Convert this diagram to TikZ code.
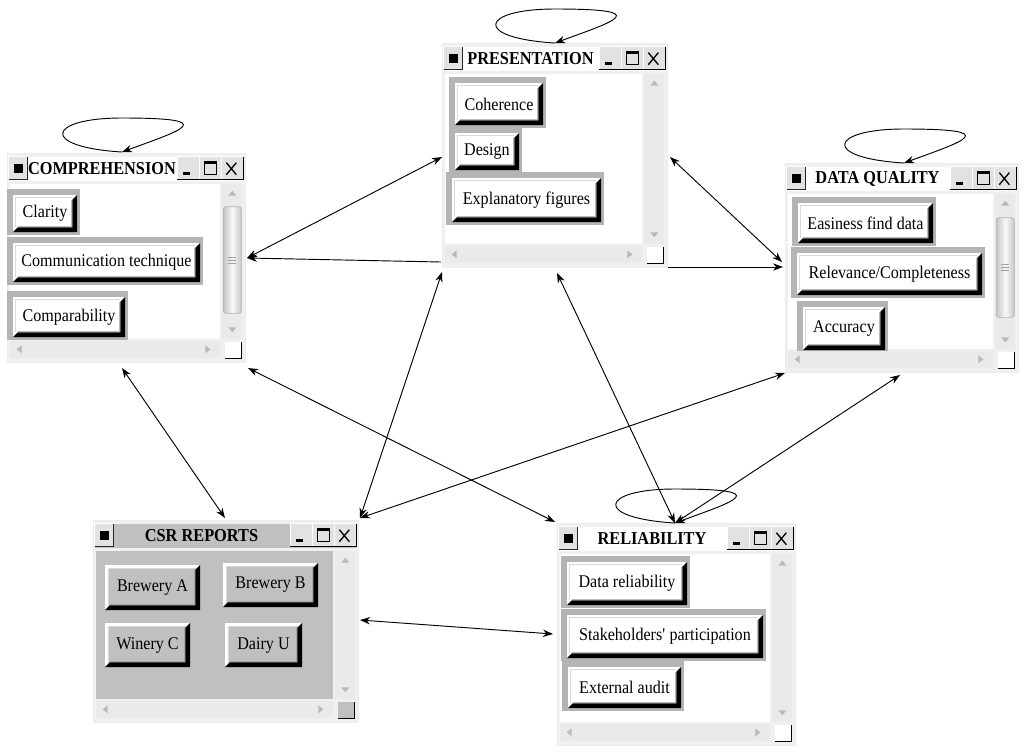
\documentclass[tikz,border=0pt]{standalone}
\usepackage{fontspec}
\newfontfamily\uifont[FakeStretch=0.9]{Liberation Serif}
\usetikzlibrary{arrows.meta,fit,calc}
\definecolor{framebg}{HTML}{F0F0F0}
\definecolor{trackbg}{HTML}{EAEAEA}
\definecolor{btnframe}{HTML}{B4B4B4}
\definecolor{csrgray}{HTML}{C0C0C0}
\definecolor{tbtn}{HTML}{E2E2E2}
\tikzset{
 winframe/.style={rectangle, fill=framebg, draw=gray!15, line width=0.5pt, inner sep=0pt},
 ttl/.style={font=\uifont\bfseries\fontsize{13.6}{15}\selectfont, inner sep=0pt, text=black},
 wbtn/.style={rectangle, inner sep=0pt, fill=white, font=\uifont\fontsize{13.4}{15}\selectfont,
   path picture={
     \fill[black] (path picture bounding box.south west) -- (path picture bounding box.south east)
       -- (path picture bounding box.north east) -- ([shift={(-3.5pt,-3.5pt)}]path picture bounding box.north east)
       -- ([shift={(-3.5pt,3.5pt)}]path picture bounding box.south east) -- ([shift={(3.5pt,3.5pt)}]path picture bounding box.south west) -- cycle;
     \draw[gray!55, line width=0.6pt] ([shift={(3.5pt,4pt)}]path picture bounding box.south west) -- ([shift={(-4pt,4pt)}]path picture bounding box.south east) -- ([shift={(-4pt,-3.5pt)}]path picture bounding box.north east);
     \draw[gray!30, line width=0.5pt] ([shift={(2pt,4pt)}]path picture bounding box.south west) |- ([shift={(-4pt,-2pt)}]path picture bounding box.north east);
   }},
 cbtn/.style={rectangle, inner sep=0pt, fill=csrgray, font=\uifont\fontsize{13.4}{15}\selectfont,
   path picture={
     \fill[white] (path picture bounding box.south west) -- (path picture bounding box.north west)
       -- (path picture bounding box.north east) -- ([shift={(-2.5pt,-2.5pt)}]path picture bounding box.north east)
       -- ([shift={(2.5pt,-2.5pt)}]path picture bounding box.north west) -- ([shift={(2.5pt,2.5pt)}]path picture bounding box.south west) -- cycle;
     \fill[black] (path picture bounding box.south west) -- (path picture bounding box.south east)
       -- (path picture bounding box.north east) -- ([shift={(-3.5pt,-3.5pt)}]path picture bounding box.north east)
       -- ([shift={(-3.5pt,3.5pt)}]path picture bounding box.south east) -- ([shift={(3.5pt,3.5pt)}]path picture bounding box.south west) -- cycle;
     \draw[gray!70, line width=0.6pt] ([shift={(3.5pt,4pt)}]path picture bounding box.south west) -- ([shift={(-4pt,4pt)}]path picture bounding box.south east) -- ([shift={(-4pt,-3pt)}]path picture bounding box.north east);
   }},
 arr/.style={-{Stealth[length=7.5pt,width=5.5pt]}, line width=0.7pt},
 biarr/.style={{Stealth[length=7.5pt,width=5.5pt]}-{Stealth[length=7.5pt,width=5.5pt]}, line width=0.7pt},
}
% window base: name, title, content colour, title-bar colour
\newcommand\winbase[4]{%
 \fill[#4] ([shift={(2,4)}]#1.north west) rectangle ([shift={(-2,28)}]#1.north east);
 \fill[tbtn] ([shift={(2,4)}]#1.north west) rectangle ([shift={(21,27)}]#1.north west);
 \draw[white, line width=0.8pt] ([shift={(2,27)}]#1.north west) |- ([shift={(21,4)}]#1.north west);
 \draw[black!85, line width=0.8pt] ([shift={(2,27)}]#1.north west) -| ([shift={(21,4)}]#1.north west);
 \fill[black] ([shift={(7,11)}]#1.north west) rectangle ([shift={(16,20)}]#1.north west);
 \node[ttl] (#1-title) at ([shift={(-24,16)}]#1.north) {#2};
 \foreach \k in {0,1,2} {
  \fill[tbtn] ([shift={(-68+22*\k,4)}]#1.north east) rectangle ([shift={(-46+22*\k,27)}]#1.north east);
  \draw[white, line width=0.8pt] ([shift={(-68+22*\k,27)}]#1.north east) |- ([shift={(-46+22*\k,4)}]#1.north east);
  \draw[black, line width=0.8pt] ([shift={(-68+22*\k,27)}]#1.north east) -| ([shift={(-46+22*\k,4)}]#1.north east);
 }
 \draw[line width=1.8pt] ([shift={(-62,21)}]#1.north east) -- ([shift={(-55,21)}]#1.north east);
 \draw[line width=0.9pt] ([shift={(-41,9)}]#1.north east) rectangle ([shift={(-29,22)}]#1.north east);
 \draw[line width=1.8pt] ([shift={(-41,10)}]#1.north east) -- ([shift={(-29,10)}]#1.north east);
 \draw[line width=1pt] ([shift={(-19,10)}]#1.north east) -- ([shift={(-9,22)}]#1.north east)
   ([shift={(-9,10)}]#1.north east) -- ([shift={(-19,22)}]#1.north east);
 \filldraw[fill=#3, draw=gray!12, line width=1pt] ([shift={(3,31)}]#1.north west) rectangle ([shift={(-25,-23)}]#1.south east);
}
% scrollbars: name, corner colour
\newcommand\winbars[2]{%
 \fill[trackbg] ([shift={(-23,31)}]#1.north east) rectangle ([shift={(-3,-23)}]#1.south east);
 \fill[gray!55] ([shift={(-13,38)}]#1.north east) -- ++(4,5) -- ++(-8,0) -- cycle;
 \fill[gray!55] ([shift={(-13,-30)}]#1.south east) -- ++(4,-5) -- ++(-8,0) -- cycle;
 \fill[trackbg] ([shift={(3,-21)}]#1.south west) rectangle ([shift={(-25,-4)}]#1.south east);
 \fill[gray!55] ([shift={(10,-13)}]#1.south west) -- ++(5,-4) -- ++(0,8) -- cycle;
 \fill[gray!55] ([shift={(-35,-13)}]#1.south east) -- ++(-5,-4) -- ++(0,8) -- cycle;
 \fill[#2] ([shift={(-20,-20)}]#1.south east) rectangle ([shift={(-4,-4)}]#1.south east);
 \draw[black, line width=1pt] ([shift={(-20,-4)}]#1.south east) -| ([shift={(-4,-20)}]#1.south east);
}
% scrollbar thumb: name, top offset, bottom offset
\newcommand\thumb[3]{%
 \shadedraw[left color=gray!45, right color=gray!45, middle color=gray!5, draw=gray!60, rounded corners=2pt, line width=0.5pt]
   ([shift={(-22,#2)}]#1.north east) rectangle ([shift={(-4,-#3)}]#1.south east);
 \foreach \d in {-3,0,3}
   \draw[gray!75, line width=0.6pt] ($([shift={(-22,#2)}]#1.north east)!0.5!([shift={(-4,-#3)}]#1.south east)+(-4,\d)$) -- ++(8,0);
}
\newcommand\wbutton[6]{%
 \fill[btnframe] (#2-6,#3-6) rectangle (#4+3,#5+3);
 \node[wbtn, minimum width={(#4-#2)*0.75pt}, minimum height={(#5-#3)*0.75pt}] (#1) at ({(#2+#4)/2},{(#3+#5)/2}) {#6};
}
\newcommand\cbutton[6]{%
 \node[cbtn, minimum width={(#4-#2)*0.75pt}, minimum height={(#5-#3)*0.75pt}] (#1) at ({(#2+#4)/2},{(#3+#5)/2}) {#6};
}
\newcommand\selfloop[1]{%
 \draw[arr] (#1) .. controls +(-83,-5) and +(-75,0) .. ([shift={(0,-34)}]#1) .. controls +(100,0) and +(60,-22) .. (#1);
}
\begin{document}
\begin{tikzpicture}[x=0.75pt,y=-0.75pt]
\useasboundingbox[fill=white] (0,0) rectangle (1024,751);

% COMPREHENSION
\node[winframe, fit={(7,153)(245,362)}] (comp) {};
\winbase{comp}{COMPREHENSION}{white}{white}
\wbutton{clarity}{13}{195}{77}{232}{Clarity}
\wbutton{commtech}{13}{243}{200}{282}{Communication technique}
\wbutton{compar}{13}{297}{125}{337}{Comparability}
\winbars{comp}{white}
\thumb{comp}{54}{49}

% PRESENTATION
\node[winframe, fit={(442,43)(667,267)}] (pres) {};
\winbase{pres}{PRESENTATION}{white}{white}
\wbutton{coher}{455}{83}{543}{125}{Coherence}
\wbutton{design}{455}{133}{519}{170}{Design}
\wbutton{explfig}{452}{178}{601}{222}{Explanatory figures}
\winbars{pres}{white}

% DATA QUALITY
\node[winframe, fit={(785,163)(1018,372)}] (dq) {};
\winbase{dq}{DATA QUALITY}{white}{white}
\wbutton{easy}{798}{203}{933}{243}{Easiness find data}
\wbutton{relev}{797}{253}{982}{295}{Relevance/Completeness}
\wbutton{accur}{803}{307}{885}{350}{Accuracy}
\winbars{dq}{white}
\thumb{dq}{55}{55}

% CSR REPORTS
\node[winframe, fit={(93,520)(358,722)}] (csr) {};
\winbase{csr}{CSR REPORTS}{csrgray}{csrgray}
\cbutton{brewa}{105}{565}{200}{610}{Brewery A}
\cbutton{brewb}{223}{563}{318}{607}{Brewery B}
\cbutton{winec}{105}{623}{190}{667}{Winery C}
\cbutton{dairyu}{225}{623}{302}{667}{Dairy U}
\winbars{csr}{csrgray}

% RELIABILITY
\node[winframe, fit={(557,523)(795,745)}] (rel) {};
\winbase{rel}{RELIABILITY}{white}{white}
\wbutton{datarel}{567}{562}{687}{605}{Data reliability}
\wbutton{stake}{567}{615}{763}{658}{Stakeholders\textquotesingle{} participation}
\wbutton{extaud}{568}{667}{681}{708}{External audit}
\winbars{rel}{white}

% connection points
\coordinate (comp-loop) at (122,152);
\coordinate (pres-loop) at (555,43);
\coordinate (dq-loop) at (904,163);
\coordinate (rel-loop) at (675,523);
\coordinate (comp-e) at (247,258);
\coordinate (comp-s1) at (122,368);
\coordinate (comp-s2) at (248,368);
\coordinate (pres-w1) at (442,157);
\coordinate (pres-w2) at (441,262);
\coordinate (pres-s1) at (442,272);
\coordinate (pres-s2) at (557,273);
\coordinate (pres-e1) at (670,157);
\coordinate (pres-e2) at (668,267);
\coordinate (dq-w1) at (782,262);
\coordinate (dq-w2) at (783,267);
\coordinate (dq-s1) at (785,373);
\coordinate (dq-s2) at (900,375);
\coordinate (csr-n1) at (225,518);
\coordinate (csr-n2) at (360,518);
\coordinate (csr-e) at (360,620);
\coordinate (rel-n1) at (555,522);
\coordinate (rel-w) at (553,634);

% self loops
\selfloop{comp-loop}
\selfloop{pres-loop}
\selfloop{dq-loop}
\selfloop{rel-loop}

% connectors
\draw[biarr] (comp-e) -- (pres-w1);
\draw[arr] (pres-w2) -- (comp-e);
\draw[arr] (pres-e2) -- (dq-w2);
\draw[biarr] (pres-e1) -- (dq-w1);
\draw[biarr] (comp-s1) -- (csr-n1);
\draw[biarr] (comp-s2) -- (rel-n1);
\draw[biarr] (pres-s1) -- (csr-n2);
\draw[biarr] (pres-s2) -- (rel-loop);
\draw[biarr] (dq-s1) -- (csr-n2);
\draw[biarr] (dq-s2) -- (rel-loop);
\draw[biarr] (csr-e) -- (rel-w);
\end{tikzpicture}
\end{document}
